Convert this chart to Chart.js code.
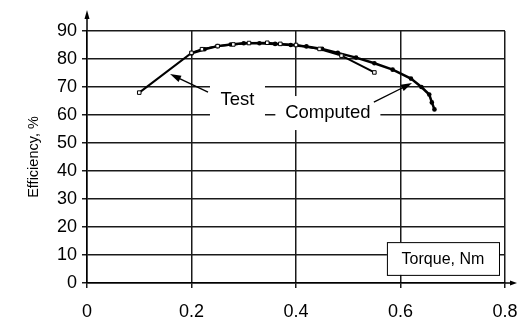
<!DOCTYPE html>
<html lang="en">
<head>
  <title>Efficiency</title>
  <style>
    html, body { margin: 0; padding: 0; background: #fff; }
    #wrap { width: 519px; height: 320px; }
  </style>
</head>
<body>
  <div id="wrap"><canvas id="myChart" width="519" height="320"></canvas></div>
  <script src="https://cdn.jsdelivr.net/npm/chart.js"></script>
  <script>
    // torque (Nm) / efficiency (%)
    const testTorque = [0.1, 0.2, 0.22, 0.25, 0.28, 0.31, 0.345, 0.37, 0.4, 0.445, 0.487, 0.55]
    const testEff = [68, 82.2, 83.5, 84.6, 85.2, 85.7, 85.8, 85.4, 85, 83.6, 81.2, 75.2]

    const compTorque = [0.2, 0.225, 0.25, 0.275, 0.3, 0.33, 0.36, 0.39, 0.42, 0.45, 0.48, 0.515, 0.55, 0.585, 0.62, 0.64, 0.655, 0.66, 0.665]
    const compEff = [82, 83.5, 84.6, 85.2, 85.6, 85.6, 85.4, 85, 84.5, 83.6, 82.2, 80.5, 78.5, 76.2, 73, 70, 67.3, 64.5, 62]

    const xTicks = [0, 0.2, 0.4, 0.6, 0.8]
    const yTicks = [0, 10, 20, 30, 40, 50, 60, 70, 80, 90]

    // callout labels: text, centre (data units), arrow from / to (data units)
    const calloutText = ['Test', 'Computed']
    const calloutX = [0.288, 0.461]
    const calloutY = [65.4, 60.7]
    const arrowFromX = [0.2316, 0.549]
    const arrowFromY = [68.2, 64.6]
    const arrowToX = [0.159, 0.622]
    const arrowToY = [74.6, 71.4]

    const font = "'Liberation Sans', Arial, sans-serif"

    function toPts(xs, ys) {
      let pts = []
      for (let i = 0; i < xs.length; i++) pts.push({x: xs[i], y: ys[i]})
      return pts
    }

    function arrow(ctx, x1, y1, x2, y2, len, half) {
      const a = Math.atan2(y2 - y1, x2 - x1)
      ctx.beginPath()
      ctx.moveTo(x1, y1)
      ctx.lineTo(x2 - Math.cos(a) * len * 0.8, y2 - Math.sin(a) * len * 0.8)
      ctx.stroke()
      ctx.beginPath()
      ctx.moveTo(x2, y2)
      ctx.lineTo(x2 - Math.cos(a) * len - Math.sin(a) * half, y2 - Math.sin(a) * len + Math.cos(a) * half)
      ctx.lineTo(x2 - Math.cos(a) * len + Math.sin(a) * half, y2 - Math.sin(a) * len - Math.cos(a) * half)
      ctx.closePath()
      ctx.fill()
    }

    const decorations = {
      id: 'decorations',
      beforeDatasetsDraw(chart) {
        const ctx = chart.ctx
        const xs = chart.scales.x, ys = chart.scales.y
        ctx.save()
        // white boxes behind the callout labels
        ctx.font = '18px ' + font
        ctx.fillStyle = '#fff'
        for (let i = 0; i < calloutText.length; i++) {
          const cx = xs.getPixelForValue(calloutX[i])
          const cy = ys.getPixelForValue(calloutY[i])
          const w = ctx.measureText(calloutText[i]).width + 22
          ctx.fillRect(cx - w / 2, cy - 17, w, 34)
        }
        // "Torque, Nm" box
        const bx = xs.getPixelForValue(0.574), by = ys.getPixelForValue(14.6)
        const bw = xs.getPixelForValue(0.7885) - bx, bh = ys.getPixelForValue(2.9) - by
        ctx.fillRect(bx, by, bw, bh)
        ctx.strokeStyle = '#000'
        ctx.lineWidth = 1
        ctx.strokeRect(bx + 0.5, by + 0.5, bw, bh)
        ctx.fillStyle = '#000'
        ctx.font = '16px ' + font
        ctx.textAlign = 'center'
        ctx.textBaseline = 'middle'
        ctx.fillText('Torque, Nm', bx + bw / 2, by + bh / 2 + 1)
        ctx.restore()
      },
      afterDatasetsDraw(chart) {
        const ctx = chart.ctx
        const xs = chart.scales.x, ys = chart.scales.y
        const area = chart.chartArea
        ctx.save()
        ctx.fillStyle = '#000'
        ctx.strokeStyle = '#000'
        ctx.textAlign = 'center'
        ctx.textBaseline = 'middle'
        ctx.font = '18.5px ' + font
        for (let i = 0; i < calloutText.length; i++) {
          ctx.fillText(calloutText[i], xs.getPixelForValue(calloutX[i]), ys.getPixelForValue(calloutY[i]))
          ctx.lineWidth = 1.3
          arrow(ctx, xs.getPixelForValue(arrowFromX[i]), ys.getPixelForValue(arrowFromY[i]),
            xs.getPixelForValue(arrowToX[i]), ys.getPixelForValue(arrowToY[i]), 11, 3.5)
        }
        // axis arrows
        ctx.lineWidth = 1.5
        arrow(ctx, area.left, area.top, area.left, area.top - 21, 9, 2.5)
        arrow(ctx, area.right, area.bottom, area.right + 12, area.bottom, 7, 2.5)
        ctx.restore()
      }
    }

    const ctx = document.getElementById('myChart').getContext('2d')
    const myChart = new Chart(ctx, {
      type: 'line',
      data: {
        datasets: [{
          label: 'Test',
          data: toPts(testTorque, testEff),
          borderColor: '#000',
          borderWidth: 2,
          pointStyle: 'rect',
          pointRadius: 2.5,
          pointBackgroundColor: '#fff',
          pointBorderColor: '#000',
          pointBorderWidth: 1,
          tension: 0
        }, {
          label: 'Computed',
          data: toPts(compTorque, compEff),
          borderColor: '#000',
          borderWidth: 2.5,
          pointStyle: 'circle',
          pointRadius: 2.3,
          pointBorderWidth: 0,
          pointBackgroundColor: '#000',
          tension: 0
        }]
      },
      options: {
        responsive: false,
        animation: false,
        events: [],
        layout: { padding: { top: 31, right: 14, left: 0, bottom: 0 } },
        plugins: {
          legend: { display: false },
          tooltip: { enabled: false }
        },
        scales: {
          x: {
            type: 'linear',
            min: xTicks[0],
            max: xTicks[xTicks.length - 1],
            afterBuildTicks: s => { s.ticks = xTicks.map(v => ({value: v})) },
            afterFit: s => { s.height = 37; s.paddingLeft = 0; s.paddingRight = 0 },
            grid: { color: '#1a1a1a', lineWidth: 1.5, tickLength: 5 },
            border: { color: '#000', width: 1.5 },
            ticks: {
              color: '#000',
              padding: 13,
              maxRotation: 0,
              font: { family: font, size: 18 },
              callback: v => v === 0 ? '0' : v.toFixed(1)
            }
          },
          y: {
            min: yTicks[0],
            max: yTicks[yTicks.length - 1],
            afterBuildTicks: s => { s.ticks = yTicks.map(v => ({value: v})) },
            afterFit: s => { s.width = 87; s.paddingTop = 0; s.paddingBottom = 0 },
            grid: { color: '#1a1a1a', lineWidth: 1.5, tickLength: 5 },
            border: { color: '#000', width: 1.5 },
            ticks: {
              color: '#000',
              padding: 5,
              font: { family: font, size: 18 }
            },
            title: {
              display: true,
              text: 'Efficiency, %',
              color: '#000',
              padding: { top: 25, bottom: 0 },
              font: { family: font, size: 14.5 }
            }
          }
        }
      },
      plugins: [decorations]
    })
  </script>
</body>
</html>
